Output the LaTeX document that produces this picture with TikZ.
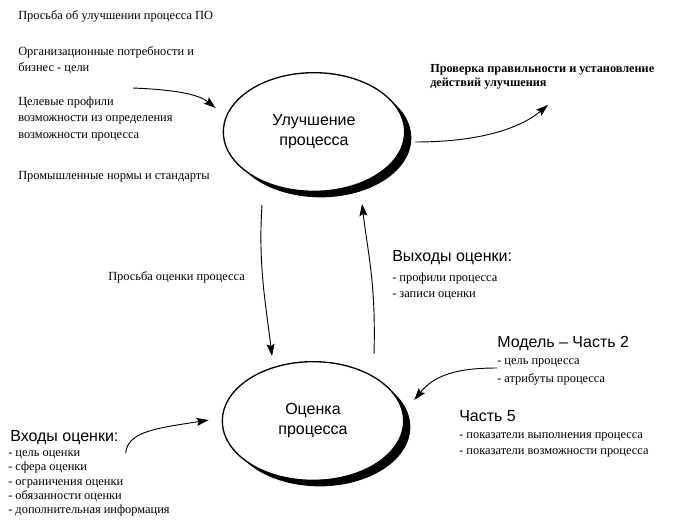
\documentclass[tikz,border=0pt]{standalone}
\usepackage{fontspec}
\setmainfont{Liberation Serif}
\setsansfont{Liberation Sans}
\usetikzlibrary{arrows.meta,shapes.geometric,shadows}

\begin{document}
\begin{tikzpicture}[x=0.75pt, y=-0.75pt,
		txt/.style={anchor=west, inner sep=0pt, align=left, font=\fontsize{9.3}{12}\selectfont},
		head/.style={anchor=west, inner sep=0pt, align=left, font=\sffamily\fontsize{12}{14}\selectfont},
		blob/.style={ellipse, draw, line width=1pt, fill=white, minimum width=136pt, minimum height=89pt,
			inner sep=0pt, align=center, font=\sffamily\fontsize{12}{15}\selectfont,
			drop shadow={fill=black, opacity=1, shadow xshift=5pt, shadow yshift=-4.5pt}},
		arr/.style={-{Stealth[length=9pt, width=6pt, inset=1.5pt]}, line width=0.7pt}]
			%%%%% START %%%%%
			
			\useasboundingbox (0, 0) rectangle (676, 525);
			
			\node[blob] (improve) at (314, 132) {Улучшение\\процесса};
			\node[blob] (assess) at (313, 421) {Оценка\\процесса};
			
			\node[txt] (reqimprove) at (18, 16) {Просьба об улучшении процесса ПО};
			\node[txt] (orgneeds) at (18, 60) {Организационные потребности и\\бизнес - цели};
			\node[txt, font=\fontsize{9.3}{12.4}\selectfont] (targetprof) at (18, 119) {Целевые профили\\возможности из определения\\возможности процесса};
			\node[txt] (industry) at (18, 177) {Промышленные нормы и стандарты};
			
			\node[txt, font=\bfseries\fontsize{9.2}{10.5}\selectfont] (verify) at (430, 77) {Проверка правильности и установление\\действий улучшения};
			
			\node[txt] (reqassess) at (108, 277) {Просьба оценки процесса};
			
			\node[head] (outputs) at (392, 258) {Выходы оценки:};
			\node[txt] (outlist) at (392, 286) {- профили процесса\\- записи оценки};
			
			\node[head] (model) at (497, 344) {Модель -- Часть 2};
			\node[txt, font=\fontsize{9.3}{13.5}\selectfont] (modellist) at (497, 372) {- цель процесса\\- атрибуты процесса};
			
			\node[head] (part5) at (459, 416) {Часть 5};
			\node[txt] (part5list) at (459, 445) {- показатели выполнения процесса\\- показатели возможности процесса};
			
			\node[head] (inputs) at (10, 438) {Входы оценки:};
			\node[txt, font=\fontsize{9.3}{10.7}\selectfont] (inlist) at (8, 483.5) {- цель оценки\\- сфера оценки\\- ограничения оценки\\- обязанности оценки\\- дополнительная информация};
			
			% inputs of the improvement
			\coordinate (orgout) at (133, 88);
			\draw[arr] (orgout) .. controls +(50, 2) and +(-15, -12) .. ([shift={(-7, -24)}]improve.west);
			
			% result of the improvement
			\coordinate (verifyin) at (548, 105);
			\draw[arr] ([shift={(10, 10)}]improve.east) .. controls +(60, 0) and +(-30, 25) .. (verifyin);
			
			% loop between the two processes
			\draw[arr] ([shift={(-52, 13)}]improve.south) .. controls +(-4, 60) and +(-6, -50) .. ([shift={(-41, -5)}]assess.north);
			\draw[arr] ([shift={(61, -7)}]assess.north) .. controls +(2, -70) and +(6, 50) .. ([shift={(48, 12)}]improve.south);
			
			% model and inputs of the assessment
			\draw[arr] ([shift={(0, -4)}]modellist.west) .. controls +(-40, 0) and +(20, -25) .. ([shift={(10, -21)}]assess.east);
			\draw[arr] ([shift={(7, 15)}]inputs.east) .. controls +(2, -22) and +(-50, 8) .. ([shift={(-13, -1)}]assess.west);
			
			%%%%% END %%%%%
		\end{tikzpicture}
\end{document}
